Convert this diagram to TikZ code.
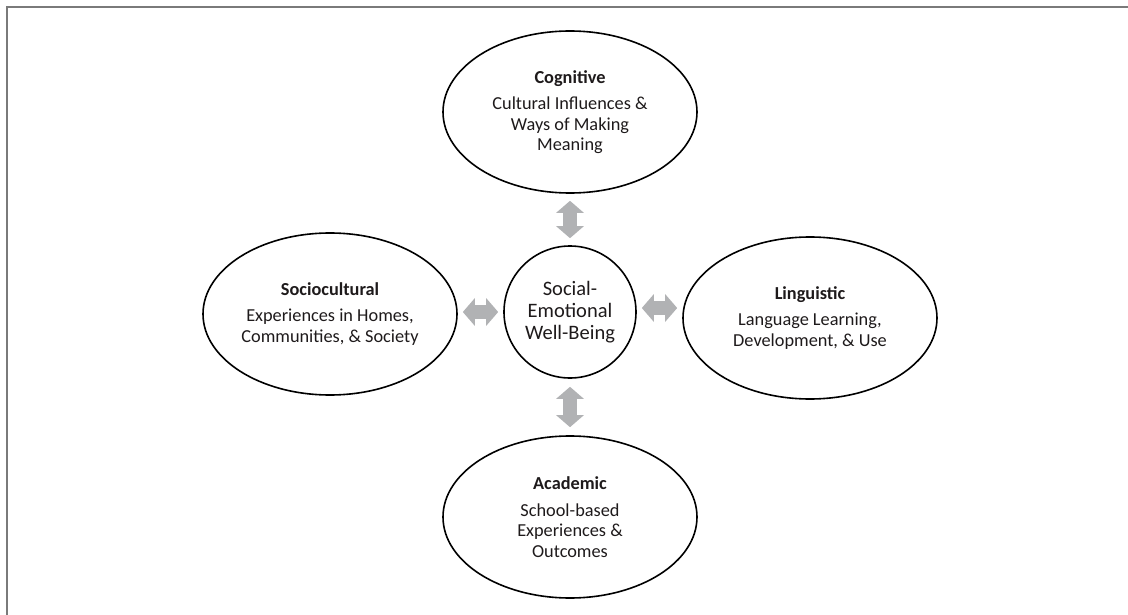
\documentclass[tikz,border=0pt]{standalone}
\usepackage{fontspec}
\setmainfont{Carlito}
\usetikzlibrary{arrows.meta,shapes.geometric}
\definecolor{txt}{HTML}{1E1A1B}
\definecolor{arrowgray}{HTML}{B1B2B4}
\definecolor{framegray}{HTML}{7A7A7A}
\begin{document}
\begin{tikzpicture}[x=1pt,y=-1pt,
  sphere/.style={ellipse, draw, line width=1.6pt, minimum width=254pt,
    minimum height=162pt, inner sep=0pt, align=center, text=txt,
    font=\fontsize{18.3}{20.5}\selectfont},
  hub/.style={circle, draw, line width=1.6pt, minimum size=132pt,
    inner sep=0pt, align=center, text=txt,
    font=\fontsize{20.5}{22}\selectfont},
  link/.style={draw=arrowgray, line width=14pt,
    {Triangle[width=27pt,length=12pt]}-{Triangle[width=27pt,length=12pt]}}
]
\useasboundingbox (0,0) rectangle (1128,615);

% outer frame (open on the right and bottom)
\draw[framegray, line width=2.5pt] (7,620) -- (7,7) -- (1130,7);

% centre and the four spheres
\node[hub] (hub) at (570,312) {Social-\\Emotional\\Well-Being};
\node[sphere] (cog) at (570,112)
  {\textbf{Cognitive}\\[6pt]Cultural Influences \&\\Ways of Making\\Meaning};
\node[sphere] (soc) at (330,314)
  {\textbf{Sociocultural}\\[6pt]Experiences in Homes,\\Communities, \& Society};
\node[sphere] (lin) at (810,318)
  {\textbf{Linguistic}\\[6pt]Language Learning,\\Development, \& Use};
\node[sphere] (aca) at (570,517)
  {\textbf{Academic}\\[6pt]School-based\\Experiences \&\\Outcomes};

% two-way links
\draw[link, shorten <=7pt, shorten >=7pt] (hub.north) -- (cog.south);
\draw[link, shorten <=8pt, shorten >=8pt] (hub.south) -- (aca.north);
\draw[link, shorten <=5pt, shorten >=5pt] (hub.west) -- (soc.east |- hub.west);
\draw[link, shorten <=5pt, shorten >=5pt] ([yshift=4pt]hub.east) -- ([yshift=4pt]lin.west |- hub.east);
\end{tikzpicture}
\end{document}
